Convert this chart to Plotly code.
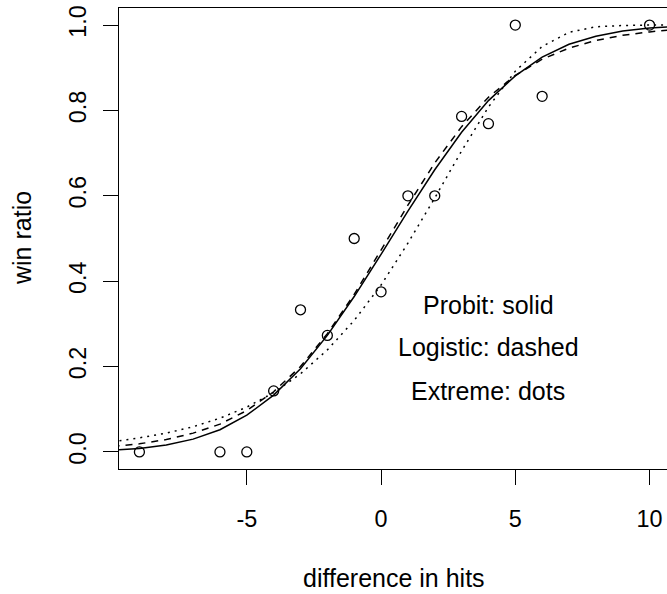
import plotly.graph_objects as go

# observed data
hits_diff = [-9, -6, -5, -4, -3, -2, -1, 0, 1, 2, 3, 4, 5, 6, 10]
win_ratio = [0.0, 0.0, 0.0, 0.143, 0.333, 0.273, 0.5, 0.375, 0.6, 0.6, 0.786, 0.769, 1.0, 0.833, 1.0]

# fitted curves at integer x
curve_x = [-10, -9, -8, -7, -6, -5, -4, -3, -2, -1, 0, 1, 2, 3, 4, 5, 6, 7, 8, 9, 10, 11]
probit_fit = [0.004, 0.008, 0.016, 0.030, 0.052, 0.086, 0.133, 0.195, 0.273, 0.364, 0.463,
              0.564, 0.661, 0.749, 0.823, 0.881, 0.925, 0.955, 0.974, 0.986, 0.993, 0.997]
logistic_fit = [0.013, 0.019, 0.029, 0.044, 0.065, 0.097, 0.141, 0.200, 0.277, 0.369, 0.473,
                0.578, 0.677, 0.762, 0.831, 0.882, 0.920, 0.946, 0.964, 0.976, 0.984, 0.990]
extreme_fit = [0.024, 0.033, 0.044, 0.059, 0.079, 0.105, 0.139, 0.183, 0.239, 0.308, 0.391,
               0.489, 0.595, 0.705, 0.808, 0.892, 0.950, 0.983, 0.996, 0.999, 1.000, 1.000]

x_ticks = [-5, 0, 5, 10]
x_tick_text = ["-5", "0", "5", "10"]
y_ticks = [0.0, 0.2, 0.4, 0.6, 0.8, 1.0]
y_tick_text = ["0.0", "0.2", "0.4", "0.6", "0.8", "1.0"]

legend_text = ["Probit: solid", "Logistic: dashed", "Extreme: dots"]
legend_x = [4, 4, 4]
legend_y = [0.345, 0.245, 0.143]

FONT = "Liberation Sans, Arial, sans-serif"

fig = go.Figure()
fig.add_trace(go.Scatter(x=curve_x, y=probit_fit, mode="lines",
                         line=dict(color="black", width=1.5, dash="solid"), showlegend=False))
fig.add_trace(go.Scatter(x=curve_x, y=logistic_fit, mode="lines",
                         line=dict(color="black", width=1.5, dash="7px,6px"), showlegend=False))
fig.add_trace(go.Scatter(x=curve_x, y=extreme_fit, mode="lines",
                         line=dict(color="black", width=1.5, dash="2px,5px"), showlegend=False))
fig.add_trace(go.Scatter(x=hits_diff, y=win_ratio, mode="markers",
                         marker=dict(symbol="circle-open", size=10, color="black",
                                     line=dict(width=1.3, color="black")),
                         showlegend=False, cliponaxis=False))

for t, xx, yy in zip(legend_text, legend_x, legend_y):
    fig.add_annotation(x=xx, y=yy, xref="x", yref="y", text=t, showarrow=False,
                       font=dict(family=FONT, size=25, color="black"),
                       xanchor="center", yanchor="middle")

W, H = 667, 594
L, R, T, B = 119, 0, 8, 125

def paper_x(px):
    return (px - L) / (W - L - R)

def paper_y(py):
    return 1 - (py - T) / (H - T - B)

fig.add_annotation(x=paper_x(394), y=paper_y(578), xref="paper", yref="paper",
                   text="difference in hits", showarrow=False,
                   font=dict(family=FONT, size=25, color="black"),
                   xanchor="center", yanchor="middle")
fig.add_annotation(x=paper_x(22), y=paper_y(238), xref="paper", yref="paper",
                   text="win ratio", showarrow=False, textangle=-90,
                   font=dict(family=FONT, size=25, color="black"),
                   xanchor="center", yanchor="middle")

fig.update_layout(
    width=W, height=H,
    margin=dict(l=L, r=R, t=T, b=B, pad=0),
    paper_bgcolor="white", plot_bgcolor="white",
    font=dict(family=FONT, size=23.4, color="black"),
    hovermode=False,
    xaxis=dict(range=[-9.76, 10.65], tickvals=x_ticks, ticktext=x_tick_text, ticks="outside",
               ticklen=15, tickwidth=1.3, tickcolor="black", showline=True, linecolor="black",
               linewidth=1.3, mirror=True, showgrid=False, zeroline=False,
               tickfont=dict(size=23.4), ticklabelstandoff=14),
    yaxis=dict(range=[-0.04, 1.04], tickvals=y_ticks, ticktext=y_tick_text, ticks="outside",
               ticklen=15, tickwidth=1.3, tickcolor="black", showline=True, linecolor="black",
               linewidth=1.3, mirror=False, showgrid=False, zeroline=False, tickangle=-90,
               tickfont=dict(size=23.4), ticklabelstandoff=8),
)

fig.write_html("out.html", config={"displayModeBar": False},
               post_script="document.body.style.margin='0';document.body.style.overflow='hidden';")
